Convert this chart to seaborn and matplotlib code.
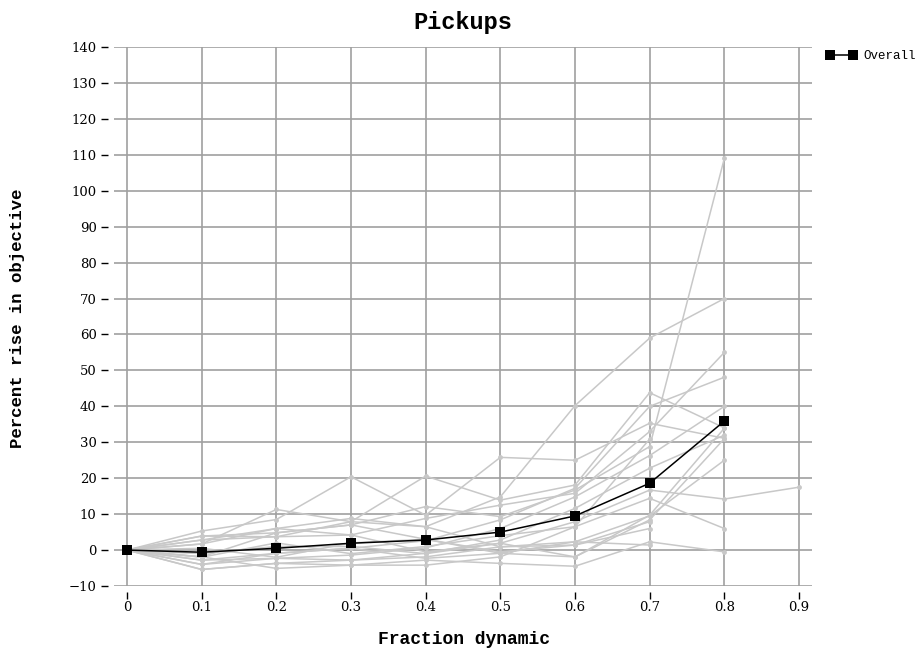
import numpy as np
import pandas as pd
import matplotlib
matplotlib.use("Agg")
import matplotlib.pyplot as plt
import seaborn as sns

nan = np.nan
x_vals = [0.0, 0.1, 0.2, 0.3, 0.4, 0.5, 0.6, 0.7, 0.8, 0.9]

s01 = [0, 2.8, 6.0, 8.8, 6.5, 14.8, 40.2, 59.0, 70.0, nan]
s02 = [0, -1.9, 4.8, 7.0, 12.1, 9.3, 16.7, 28.8, 109.0, nan]
s03 = [0, 5.3, 8.5, 20.4, 9.7, 25.8, 25.0, 35.3, 31.1, nan]
s04 = [0, 1.7, 11.3, 7.9, 20.6, 13.9, 18.1, 43.8, 34.0, nan]
s05 = [0, 3.9, 3.7, 4.2, 8.8, 12.5, 15.8, 33.0, 55.0, nan]
s06 = [0, -2.8, -0.9, 0.5, 2.6, 8.4, 17.2, 40.0, 48.1, nan]
s07 = [0, -4.0, -2.3, -1.4, 0.6, 6.0, 14.8, 26.3, 40.0, nan]
s08 = [0, -5.4, -3.7, -2.8, -0.9, 2.8, 11.6, 22.8, 32.0, nan]
s09 = [0, 1.7, 6.0, 4.2, -0.5, 1.9, 7.9, 16.7, 14.2, 17.5]
s10 = [0, -1.9, -5.1, -4.2, -4.2, -1.9, 6.5, 14.4, 6.0, nan]
s11 = [0, -2.8, -2.3, -2.8, -1.9, 0.9, 2.3, 9.5, 25.0, nan]
s12 = [0, -4.0, -0.9, 0.5, -2.3, -0.9, -1.9, 8.4, 31.0, nan]
s13 = [0, -5.4, -3.7, -4.2, -2.8, -3.7, -4.5, 2.3, -0.5, nan]
s14 = [0, 2.8, 3.7, 7.9, 6.5, 0.9, 1.4, 7.9, nan, nan]
s15 = [0, 3.9, 4.8, 7.0, 3.0, -0.9, 2.3, 1.4, nan, nan]
s16 = [0, -1.0, 1.0, 1.0, -1.0, 1.9, -1.9, 9.7, 33.9, nan]
s17 = [0, -2.0, 2.0, -1.0, 1.0, 4.0, 6.5, 30.9, nan, nan]
s18 = [0, 0.5, -2.0, 2.0, 3.0, -0.5, 1.4, 6.0, nan, nan]

overall = [0, -0.6, 0.5, 1.9, 2.8, 5.0, 9.5, 18.6, 35.9]

x_ticks = [0, 0.1, 0.2, 0.3, 0.4, 0.5, 0.6, 0.7, 0.8, 0.9]
x_tick_labels = ["0", "0.1", "0.2", "0.3", "0.4", "0.5", "0.6", "0.7", "0.8", "0.9"]
y_ticks = list(range(-10, 141, 10))

series = [s01, s02, s03, s04, s05, s06, s07, s08, s09, s10,
          s11, s12, s13, s14, s15, s16, s17, s18]
rows = []
for i, s in enumerate(series):
    for xv, yv in zip(x_vals, s):
        if not np.isnan(yv):
            rows.append({"series": i, "x": xv, "y": yv})
df = pd.DataFrame(rows)

sns.set_theme(style="white")
plt.rcParams["font.family"] = ["DejaVu Serif"]
plt.rcParams["text.color"] = "black"
plt.rcParams["xtick.color"] = "black"
plt.rcParams["ytick.color"] = "black"

W, H = 921, 658
fig = plt.figure(figsize=(W / 100, H / 100), dpi=100)
ax = fig.add_axes([114 / W, 72 / H, 698 / W, 539 / H])

sns.lineplot(data=df, x="x", y="y", units="series", estimator=None,
             color="#c8c8c8", marker="o", markersize=3.5, markeredgewidth=0,
             linewidth=1.1, legend=False, ax=ax, sort=False)
sns.lineplot(x=x_vals[:len(overall)], y=overall, color="black", marker="s",
             markersize=7.5, markeredgewidth=0, linewidth=1.1, label="Overall",
             ax=ax)

ax.set_xlim(-13 / 746.7, 0.9 + 13 / 746.7)
ax.set_ylim(-10, 140)
ax.set_xticks(x_ticks)
ax.set_xticklabels(x_tick_labels)
ax.set_yticks(y_ticks)
ax.set_xlabel("")
ax.set_ylabel("")

ax.grid(True, color="#a0a0a0", linewidth=1.2)
ax.set_axisbelow(True)
for sp in ax.spines.values():
    sp.set_visible(False)
ax.spines["left"].set_position(("outward", 4.5))
ax.spines["bottom"].set_position(("outward", 4.5))
ax.tick_params(axis="y", direction="out", length=5, width=1,
               color="black", labelsize=9.5, labelcolor="black", pad=3,
               left=True)
ax.tick_params(axis="x", direction="out", length=5, width=1,
               color="black", labelsize=9.5, labelcolor="black", pad=1.5,
               bottom=True)

fig.text(463 / W, 1 - 22 / H, "Pickups", fontsize=17, fontweight="bold",
         family=["Liberation Mono"], ha="center", va="center")
fig.text(464 / W, 1 - 640 / H, "Fraction dynamic", fontsize=13, fontweight="bold",
         family=["Liberation Mono"], ha="center", va="center")
fig.text(18 / W, 1 - 318 / H, "Percent rise in objective", fontsize=12.5,
         fontweight="bold", family=["Liberation Mono"], ha="center", va="center",
         rotation=90)

leg = ax.legend(loc="upper left", bbox_to_anchor=(1.005, 1.015), frameon=False,
                numpoints=2, handlelength=2.4, handletextpad=0.5,
                prop={"family": "Liberation Mono", "size": 9})

fig.savefig("out.png", dpi=100)
